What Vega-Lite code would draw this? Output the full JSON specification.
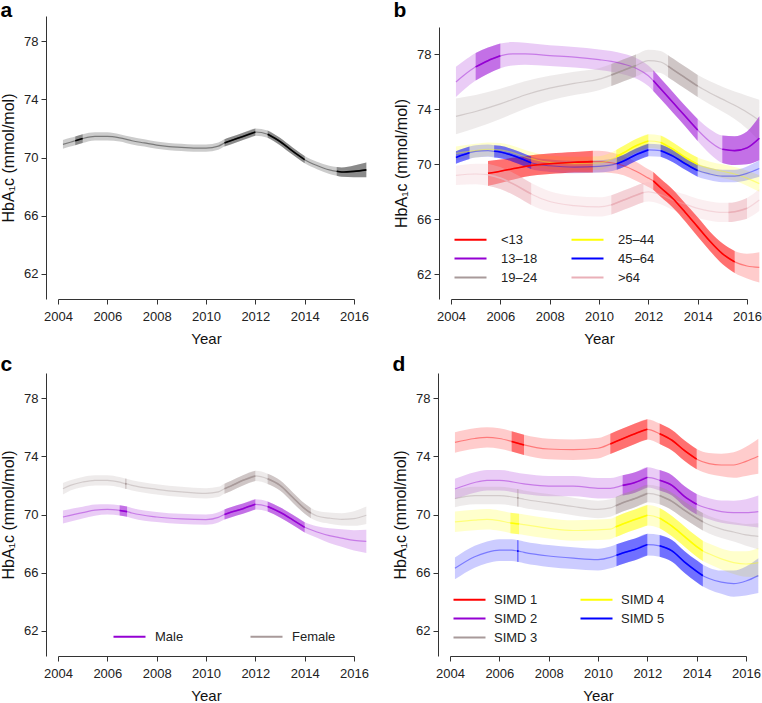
{
"$schema":"https://vega.github.io/schema/vega-lite/v6.json",
"padding":{"left":0,"top":0,"right":0,"bottom":0},
"spacing":8,
"resolve":{"scale":{"color":"independent"},"legend":{"color":"independent"}},
"config":{
 "font":"Liberation Sans",
 "view":{"stroke":null},
 "axis":{"grid":false,"domainColor":"#333","tickColor":"#333","labelColor":"#222","titleColor":"#111","labelFontSize":13,"titleFontSize":16,"titleFontWeight":"normal","tickSize":5,"labelPadding":3},
 "axisX":{"labelPadding":6,"titlePadding":8,"labelFlush":false,"titleFontSize":15},
 "axisY":{"titlePadding":7,"offset":12},
 "legend":{"labelFontSize":13,"labelColor":"#222","symbolType":"M-1.6,0L1.6,0","symbolSize":400,"symbolStrokeWidth":2.2,"symbolOpacity":1,"rowPadding":0},
 "title":{"fontSize":21,"fontWeight":"bold","anchor":"start","frame":"bounds","color":"#000"}
},
"datasets":{"d":[
{"p":"a","g":"All","t":2004.2,"m":70.9,"lo":70.6,"hi":71.2,"s":""},
{"p":"a","g":"All","t":2004.5,"m":71.05,"lo":70.75,"hi":71.35,"s":""},
{"p":"a","g":"All","t":2004.7,"m":71.15,"lo":70.85,"hi":71.45,"s":"a1"},
{"p":"a","g":"All","t":2005.0,"m":71.3,"lo":71.0,"hi":71.6,"s":"a1"},
{"p":"a","g":"All","t":2005.5,"m":71.45,"lo":71.17,"hi":71.73,"s":""},
{"p":"a","g":"All","t":2006.0,"m":71.45,"lo":71.17,"hi":71.73,"s":""},
{"p":"a","g":"All","t":2006.5,"m":71.35,"lo":71.1,"hi":71.6,"s":""},
{"p":"a","g":"All","t":2007.0,"m":71.15,"lo":70.9,"hi":71.4,"s":""},
{"p":"a","g":"All","t":2007.5,"m":71.0,"lo":70.75,"hi":71.25,"s":""},
{"p":"a","g":"All","t":2008.0,"m":70.85,"lo":70.6,"hi":71.1,"s":""},
{"p":"a","g":"All","t":2008.5,"m":70.75,"lo":70.5,"hi":71.0,"s":""},
{"p":"a","g":"All","t":2009.0,"m":70.7,"lo":70.45,"hi":70.95,"s":""},
{"p":"a","g":"All","t":2009.5,"m":70.65,"lo":70.4,"hi":70.9,"s":""},
{"p":"a","g":"All","t":2010.0,"m":70.65,"lo":70.4,"hi":70.9,"s":""},
{"p":"a","g":"All","t":2010.5,"m":70.78,"lo":70.53,"hi":71.03,"s":""},
{"p":"a","g":"All","t":2010.75,"m":71.0,"lo":70.75,"hi":71.25,"s":"a2"},
{"p":"a","g":"All","t":2011.0,"m":71.15,"lo":70.9,"hi":71.4,"s":"a2"},
{"p":"a","g":"All","t":2011.5,"m":71.45,"lo":71.2,"hi":71.7,"s":"a2"},
{"p":"a","g":"All","t":2012.0,"m":71.75,"lo":71.5,"hi":72.0,"s":"a2"},
{"p":"a","g":"All","t":2012.5,"m":71.6,"lo":71.35,"hi":71.85,"s":"a3"},
{"p":"a","g":"All","t":2013.0,"m":71.1,"lo":70.85,"hi":71.35,"s":"a3"},
{"p":"a","g":"All","t":2013.5,"m":70.45,"lo":70.2,"hi":70.7,"s":"a3"},
{"p":"a","g":"All","t":2014.0,"m":69.85,"lo":69.6,"hi":70.1,"s":"a3"},
{"p":"a","g":"All","t":2014.5,"m":69.45,"lo":69.2,"hi":69.7,"s":""},
{"p":"a","g":"All","t":2015.0,"m":69.15,"lo":68.87,"hi":69.43,"s":""},
{"p":"a","g":"All","t":2015.3,"m":69.05,"lo":68.75,"hi":69.35,"s":"a4"},
{"p":"a","g":"All","t":2015.5,"m":69.0,"lo":68.68,"hi":69.32,"s":"a4"},
{"p":"a","g":"All","t":2016.0,"m":69.05,"lo":68.65,"hi":69.45,"s":"a4"},
{"p":"a","g":"All","t":2016.5,"m":69.15,"lo":68.65,"hi":69.65,"s":"a4"},

{"p":"b","g":"<13","t":2005.5,"m":69.35,"lo":68.45,"hi":70.25,"s":"b1"},
{"p":"b","g":"<13","t":2006.0,"m":69.5,"lo":68.65,"hi":70.35,"s":"b1"},
{"p":"b","g":"<13","t":2006.5,"m":69.68,"lo":68.88,"hi":70.48,"s":"b1"},
{"p":"b","g":"<13","t":2007.0,"m":69.85,"lo":69.1,"hi":70.6,"s":"b1"},
{"p":"b","g":"<13","t":2007.5,"m":69.97,"lo":69.22,"hi":70.72,"s":"b1"},
{"p":"b","g":"<13","t":2008.0,"m":70.05,"lo":69.3,"hi":70.8,"s":"b1"},
{"p":"b","g":"<13","t":2008.5,"m":70.1,"lo":69.35,"hi":70.85,"s":"b1"},
{"p":"b","g":"<13","t":2009.0,"m":70.15,"lo":69.4,"hi":70.9,"s":"b1"},
{"p":"b","g":"<13","t":2009.75,"m":70.2,"lo":69.4,"hi":71.0,"s":"b1"},
{"p":"b","g":"<13","t":2010.0,"m":70.2,"lo":69.4,"hi":71.0,"s":""},
{"p":"b","g":"<13","t":2010.5,"m":70.12,"lo":69.37,"hi":70.87,"s":""},
{"p":"b","g":"<13","t":2011.0,"m":69.9,"lo":69.2,"hi":70.6,"s":""},
{"p":"b","g":"<13","t":2011.5,"m":69.5,"lo":68.8,"hi":70.2,"s":""},
{"p":"b","g":"<13","t":2012.0,"m":69.0,"lo":68.35,"hi":69.65,"s":""},
{"p":"b","g":"<13","t":2012.2,"m":68.8,"lo":68.15,"hi":69.45,"s":"b2"},
{"p":"b","g":"<13","t":2012.5,"m":68.3,"lo":67.65,"hi":68.95,"s":"b2"},
{"p":"b","g":"<13","t":2013.0,"m":67.5,"lo":66.85,"hi":68.15,"s":"b2"},
{"p":"b","g":"<13","t":2013.5,"m":66.5,"lo":65.85,"hi":67.15,"s":"b2"},
{"p":"b","g":"<13","t":2014.0,"m":65.45,"lo":64.75,"hi":66.15,"s":"b2"},
{"p":"b","g":"<13","t":2014.5,"m":64.4,"lo":63.7,"hi":65.1,"s":"b2"},
{"p":"b","g":"<13","t":2015.0,"m":63.5,"lo":62.75,"hi":64.25,"s":"b2"},
{"p":"b","g":"<13","t":2015.5,"m":62.9,"lo":62.1,"hi":63.7,"s":"b2"},
{"p":"b","g":"<13","t":2016.0,"m":62.6,"lo":61.7,"hi":63.5,"s":""},
{"p":"b","g":"<13","t":2016.5,"m":62.5,"lo":61.4,"hi":63.6,"s":""},

{"p":"b","g":"13–18","t":2004.2,"m":76.0,"lo":74.9,"hi":77.1,"s":""},
{"p":"b","g":"13–18","t":2004.5,"m":76.45,"lo":75.4,"hi":77.5,"s":""},
{"p":"b","g":"13–18","t":2005.0,"m":77.1,"lo":76.1,"hi":78.1,"s":"b3"},
{"p":"b","g":"13–18","t":2005.5,"m":77.55,"lo":76.6,"hi":78.5,"s":"b3"},
{"p":"b","g":"13–18","t":2006.0,"m":77.9,"lo":77.0,"hi":78.8,"s":"b3"},
{"p":"b","g":"13–18","t":2006.5,"m":78.05,"lo":77.2,"hi":78.9,"s":""},
{"p":"b","g":"13–18","t":2007.0,"m":78.05,"lo":77.25,"hi":78.85,"s":""},
{"p":"b","g":"13–18","t":2008.0,"m":77.92,"lo":77.17,"hi":78.67,"s":""},
{"p":"b","g":"13–18","t":2009.0,"m":77.8,"lo":77.05,"hi":78.55,"s":""},
{"p":"b","g":"13–18","t":2010.0,"m":77.62,"lo":76.87,"hi":78.37,"s":""},
{"p":"b","g":"13–18","t":2010.5,"m":77.5,"lo":76.75,"hi":78.25,"s":""},
{"p":"b","g":"13–18","t":2011.0,"m":77.3,"lo":76.55,"hi":78.05,"s":""},
{"p":"b","g":"13–18","t":2011.5,"m":77.0,"lo":76.25,"hi":77.75,"s":""},
{"p":"b","g":"13–18","t":2012.0,"m":76.45,"lo":75.7,"hi":77.2,"s":""},
{"p":"b","g":"13–18","t":2012.2,"m":76.1,"lo":75.35,"hi":76.85,"s":"b4"},
{"p":"b","g":"13–18","t":2012.5,"m":75.5,"lo":74.75,"hi":76.25,"s":"b4"},
{"p":"b","g":"13–18","t":2013.0,"m":74.5,"lo":73.75,"hi":75.25,"s":"b4"},
{"p":"b","g":"13–18","t":2013.5,"m":73.5,"lo":72.75,"hi":74.25,"s":"b4"},
{"p":"b","g":"13–18","t":2014.0,"m":72.5,"lo":71.7,"hi":73.3,"s":"b4"},
{"p":"b","g":"13–18","t":2014.5,"m":71.65,"lo":70.75,"hi":72.55,"s":""},
{"p":"b","g":"13–18","t":2015.0,"m":71.1,"lo":70.1,"hi":72.1,"s":"b5"},
{"p":"b","g":"13–18","t":2015.5,"m":71.0,"lo":69.95,"hi":72.05,"s":"b5"},
{"p":"b","g":"13–18","t":2016.0,"m":71.2,"lo":70.0,"hi":72.4,"s":"b5"},
{"p":"b","g":"13–18","t":2016.5,"m":71.9,"lo":70.3,"hi":73.5,"s":"b5"},

{"p":"b","g":"19–24","t":2004.2,"m":73.5,"lo":72.2,"hi":74.8,"s":""},
{"p":"b","g":"19–24","t":2005.0,"m":73.85,"lo":72.65,"hi":75.05,"s":""},
{"p":"b","g":"19–24","t":2006.0,"m":74.4,"lo":73.3,"hi":75.5,"s":""},
{"p":"b","g":"19–24","t":2007.0,"m":75.05,"lo":74.05,"hi":76.05,"s":""},
{"p":"b","g":"19–24","t":2008.0,"m":75.55,"lo":74.65,"hi":76.45,"s":""},
{"p":"b","g":"19–24","t":2009.0,"m":75.9,"lo":75.05,"hi":76.75,"s":""},
{"p":"b","g":"19–24","t":2010.0,"m":76.2,"lo":75.4,"hi":77.0,"s":""},
{"p":"b","g":"19–24","t":2010.5,"m":76.5,"lo":75.7,"hi":77.3,"s":"b6"},
{"p":"b","g":"19–24","t":2011.0,"m":76.85,"lo":76.05,"hi":77.65,"s":"b6"},
{"p":"b","g":"19–24","t":2011.5,"m":77.2,"lo":76.4,"hi":78.0,"s":"b6"},
{"p":"b","g":"19–24","t":2012.0,"m":77.55,"lo":76.75,"hi":78.35,"s":""},
{"p":"b","g":"19–24","t":2012.5,"m":77.45,"lo":76.65,"hi":78.25,"s":""},
{"p":"b","g":"19–24","t":2012.8,"m":77.15,"lo":76.35,"hi":77.95,"s":"b7"},
{"p":"b","g":"19–24","t":2013.0,"m":76.9,"lo":76.1,"hi":77.7,"s":"b7"},
{"p":"b","g":"19–24","t":2013.5,"m":76.3,"lo":75.5,"hi":77.1,"s":"b7"},
{"p":"b","g":"19–24","t":2014.0,"m":75.7,"lo":74.9,"hi":76.5,"s":"b7"},
{"p":"b","g":"19–24","t":2014.5,"m":75.2,"lo":74.35,"hi":76.05,"s":""},
{"p":"b","g":"19–24","t":2015.0,"m":74.75,"lo":73.85,"hi":75.65,"s":""},
{"p":"b","g":"19–24","t":2015.5,"m":74.3,"lo":73.3,"hi":75.3,"s":""},
{"p":"b","g":"19–24","t":2016.0,"m":73.8,"lo":72.6,"hi":75.0,"s":""},
{"p":"b","g":"19–24","t":2016.5,"m":73.2,"lo":71.7,"hi":74.7,"s":""},

{"p":"b","g":"25–44","t":2004.2,"m":70.8,"lo":70.3,"hi":71.3,"s":""},
{"p":"b","g":"25–44","t":2005.0,"m":71.0,"lo":70.5,"hi":71.5,"s":""},
{"p":"b","g":"25–44","t":2005.5,"m":71.1,"lo":70.6,"hi":71.6,"s":""},
{"p":"b","g":"25–44","t":2006.0,"m":71.05,"lo":70.55,"hi":71.55,"s":""},
{"p":"b","g":"25–44","t":2006.5,"m":70.85,"lo":70.35,"hi":71.35,"s":""},
{"p":"b","g":"25–44","t":2007.0,"m":70.55,"lo":70.05,"hi":71.05,"s":""},
{"p":"b","g":"25–44","t":2007.5,"m":70.3,"lo":69.8,"hi":70.8,"s":""},
{"p":"b","g":"25–44","t":2008.0,"m":70.15,"lo":69.65,"hi":70.65,"s":""},
{"p":"b","g":"25–44","t":2009.0,"m":70.05,"lo":69.55,"hi":70.55,"s":""},
{"p":"b","g":"25–44","t":2010.0,"m":70.1,"lo":69.6,"hi":70.6,"s":""},
{"p":"b","g":"25–44","t":2010.7,"m":70.55,"lo":70.05,"hi":71.05,"s":"b8"},
{"p":"b","g":"25–44","t":2011.0,"m":70.85,"lo":70.35,"hi":71.35,"s":"b8"},
{"p":"b","g":"25–44","t":2011.5,"m":71.35,"lo":70.85,"hi":71.85,"s":"b8"},
{"p":"b","g":"25–44","t":2012.0,"m":71.7,"lo":71.2,"hi":72.2,"s":"b8"},
{"p":"b","g":"25–44","t":2012.5,"m":71.6,"lo":71.1,"hi":72.1,"s":"b9"},
{"p":"b","g":"25–44","t":2013.0,"m":71.1,"lo":70.6,"hi":71.6,"s":"b9"},
{"p":"b","g":"25–44","t":2013.5,"m":70.5,"lo":70.0,"hi":71.0,"s":"b9"},
{"p":"b","g":"25–44","t":2014.0,"m":70.0,"lo":69.5,"hi":70.5,"s":"b9"},
{"p":"b","g":"25–44","t":2014.5,"m":69.7,"lo":69.2,"hi":70.2,"s":""},
{"p":"b","g":"25–44","t":2015.0,"m":69.5,"lo":69.0,"hi":70.0,"s":""},
{"p":"b","g":"25–44","t":2015.5,"m":69.3,"lo":68.8,"hi":69.8,"s":""},
{"p":"b","g":"25–44","t":2016.0,"m":69.0,"lo":68.45,"hi":69.55,"s":""},
{"p":"b","g":"25–44","t":2016.5,"m":68.6,"lo":68.0,"hi":69.2,"s":""},

{"p":"b","g":"45–64","t":2004.2,"m":70.5,"lo":70.05,"hi":70.95,"s":"b10"},
{"p":"b","g":"45–64","t":2004.5,"m":70.7,"lo":70.25,"hi":71.15,"s":"b10"},
{"p":"b","g":"45–64","t":2004.75,"m":70.85,"lo":70.4,"hi":71.3,"s":"b10"},
{"p":"b","g":"45–64","t":2005.0,"m":70.95,"lo":70.5,"hi":71.4,"s":""},
{"p":"b","g":"45–64","t":2005.5,"m":71.0,"lo":70.55,"hi":71.45,"s":""},
{"p":"b","g":"45–64","t":2005.75,"m":70.95,"lo":70.5,"hi":71.4,"s":"b11"},
{"p":"b","g":"45–64","t":2006.0,"m":70.9,"lo":70.45,"hi":71.35,"s":"b11"},
{"p":"b","g":"45–64","t":2006.5,"m":70.65,"lo":70.2,"hi":71.1,"s":"b11"},
{"p":"b","g":"45–64","t":2007.0,"m":70.3,"lo":69.85,"hi":70.75,"s":"b11"},
{"p":"b","g":"45–64","t":2007.25,"m":70.12,"lo":69.67,"hi":70.57,"s":"b11"},
{"p":"b","g":"45–64","t":2007.5,"m":70.0,"lo":69.55,"hi":70.45,"s":""},
{"p":"b","g":"45–64","t":2008.0,"m":69.9,"lo":69.45,"hi":70.35,"s":""},
{"p":"b","g":"45–64","t":2009.0,"m":69.8,"lo":69.35,"hi":70.25,"s":""},
{"p":"b","g":"45–64","t":2010.0,"m":69.85,"lo":69.4,"hi":70.3,"s":""},
{"p":"b","g":"45–64","t":2010.72,"m":70.05,"lo":69.6,"hi":70.5,"s":"b12"},
{"p":"b","g":"45–64","t":2011.0,"m":70.25,"lo":69.8,"hi":70.7,"s":"b12"},
{"p":"b","g":"45–64","t":2011.5,"m":70.7,"lo":70.25,"hi":71.15,"s":"b12"},
{"p":"b","g":"45–64","t":2012.0,"m":71.05,"lo":70.6,"hi":71.5,"s":"b12"},
{"p":"b","g":"45–64","t":2012.5,"m":71.0,"lo":70.55,"hi":71.45,"s":"b13"},
{"p":"b","g":"45–64","t":2013.0,"m":70.6,"lo":70.15,"hi":71.05,"s":"b13"},
{"p":"b","g":"45–64","t":2013.5,"m":70.05,"lo":69.6,"hi":70.5,"s":"b13"},
{"p":"b","g":"45–64","t":2014.0,"m":69.55,"lo":69.1,"hi":70.0,"s":"b13"},
{"p":"b","g":"45–64","t":2014.5,"m":69.3,"lo":68.85,"hi":69.75,"s":""},
{"p":"b","g":"45–64","t":2015.0,"m":69.15,"lo":68.7,"hi":69.6,"s":""},
{"p":"b","g":"45–64","t":2015.5,"m":69.15,"lo":68.7,"hi":69.6,"s":""},
{"p":"b","g":"45–64","t":2016.0,"m":69.35,"lo":68.85,"hi":69.85,"s":""},
{"p":"b","g":"45–64","t":2016.5,"m":69.7,"lo":69.1,"hi":70.3,"s":""},

{"p":"b","g":">64","t":2004.2,"m":69.2,"lo":68.5,"hi":69.9,"s":""},
{"p":"b","g":">64","t":2005.0,"m":69.3,"lo":68.55,"hi":70.05,"s":""},
{"p":"b","g":">64","t":2005.5,"m":69.25,"lo":68.45,"hi":70.05,"s":"b14"},
{"p":"b","g":">64","t":2006.0,"m":69.0,"lo":68.2,"hi":69.8,"s":"b14"},
{"p":"b","g":">64","t":2006.5,"m":68.6,"lo":67.8,"hi":69.4,"s":"b14"},
{"p":"b","g":">64","t":2007.0,"m":68.1,"lo":67.3,"hi":68.9,"s":"b14"},
{"p":"b","g":">64","t":2007.25,"m":67.85,"lo":67.05,"hi":68.65,"s":"b14"},
{"p":"b","g":">64","t":2008.0,"m":67.3,"lo":66.55,"hi":68.05,"s":""},
{"p":"b","g":">64","t":2009.0,"m":67.0,"lo":66.3,"hi":67.7,"s":""},
{"p":"b","g":">64","t":2010.0,"m":66.9,"lo":66.2,"hi":67.6,"s":""},
{"p":"b","g":">64","t":2010.5,"m":67.05,"lo":66.35,"hi":67.75,"s":"b15"},
{"p":"b","g":">64","t":2011.0,"m":67.4,"lo":66.7,"hi":68.1,"s":"b15"},
{"p":"b","g":">64","t":2011.5,"m":67.75,"lo":67.05,"hi":68.45,"s":"b15"},
{"p":"b","g":">64","t":2011.8,"m":67.95,"lo":67.25,"hi":68.65,"s":"b15"},
{"p":"b","g":">64","t":2012.0,"m":68.0,"lo":67.3,"hi":68.7,"s":""},
{"p":"b","g":">64","t":2012.5,"m":67.8,"lo":67.1,"hi":68.5,"s":""},
{"p":"b","g":">64","t":2013.0,"m":67.4,"lo":66.7,"hi":68.1,"s":""},
{"p":"b","g":">64","t":2013.5,"m":67.1,"lo":66.4,"hi":67.8,"s":""},
{"p":"b","g":">64","t":2014.0,"m":66.8,"lo":66.1,"hi":67.5,"s":""},
{"p":"b","g":">64","t":2014.5,"m":66.6,"lo":65.9,"hi":67.3,"s":""},
{"p":"b","g":">64","t":2015.0,"m":66.5,"lo":65.8,"hi":67.2,"s":""},
{"p":"b","g":">64","t":2015.25,"m":66.5,"lo":65.8,"hi":67.2,"s":"b16"},
{"p":"b","g":">64","t":2015.5,"m":66.55,"lo":65.85,"hi":67.25,"s":"b16"},
{"p":"b","g":">64","t":2016.0,"m":66.8,"lo":66.05,"hi":67.55,"s":"b16"},
{"p":"b","g":">64","t":2016.5,"m":67.4,"lo":66.6,"hi":68.2,"s":""},

{"p":"c","g":"Female","t":2004.2,"m":71.77,"lo":71.37,"hi":72.17,"s":""},
{"p":"c","g":"Female","t":2004.5,"m":72.0,"lo":71.65,"hi":72.35,"s":""},
{"p":"c","g":"Female","t":2005.0,"m":72.23,"lo":71.88,"hi":72.58,"s":""},
{"p":"c","g":"Female","t":2005.5,"m":72.35,"lo":72.0,"hi":72.7,"s":""},
{"p":"c","g":"Female","t":2006.0,"m":72.35,"lo":72.0,"hi":72.7,"s":""},
{"p":"c","g":"Female","t":2006.5,"m":72.22,"lo":71.87,"hi":72.57,"s":""},
{"p":"c","g":"Female","t":2006.72,"m":72.12,"lo":71.77,"hi":72.47,"s":"c1"},
{"p":"c","g":"Female","t":2006.78,"m":72.1,"lo":71.75,"hi":72.45,"s":"c1"},
{"p":"c","g":"Female","t":2007.0,"m":72.0,"lo":71.65,"hi":72.35,"s":""},
{"p":"c","g":"Female","t":2008.0,"m":71.73,"lo":71.38,"hi":72.08,"s":""},
{"p":"c","g":"Female","t":2009.0,"m":71.55,"lo":71.2,"hi":71.9,"s":""},
{"p":"c","g":"Female","t":2010.0,"m":71.45,"lo":71.1,"hi":71.8,"s":""},
{"p":"c","g":"Female","t":2010.5,"m":71.55,"lo":71.2,"hi":71.9,"s":""},
{"p":"c","g":"Female","t":2010.75,"m":71.77,"lo":71.42,"hi":72.12,"s":"c2"},
{"p":"c","g":"Female","t":2011.0,"m":71.95,"lo":71.6,"hi":72.3,"s":"c2"},
{"p":"c","g":"Female","t":2011.5,"m":72.35,"lo":72.0,"hi":72.7,"s":"c2"},
{"p":"c","g":"Female","t":2012.0,"m":72.65,"lo":72.3,"hi":73.0,"s":"c2"},
{"p":"c","g":"Female","t":2012.5,"m":72.45,"lo":72.1,"hi":72.8,"s":"c3"},
{"p":"c","g":"Female","t":2013.0,"m":72.0,"lo":71.65,"hi":72.35,"s":"c3"},
{"p":"c","g":"Female","t":2013.5,"m":71.2,"lo":70.85,"hi":71.55,"s":"c3"},
{"p":"c","g":"Female","t":2014.0,"m":70.4,"lo":70.05,"hi":70.75,"s":"c3"},
{"p":"c","g":"Female","t":2014.25,"m":70.1,"lo":69.75,"hi":70.45,"s":"c3"},
{"p":"c","g":"Female","t":2014.5,"m":69.9,"lo":69.55,"hi":70.25,"s":""},
{"p":"c","g":"Female","t":2015.0,"m":69.75,"lo":69.37,"hi":70.13,"s":""},
{"p":"c","g":"Female","t":2015.5,"m":69.67,"lo":69.25,"hi":70.09,"s":""},
{"p":"c","g":"Female","t":2016.0,"m":69.72,"lo":69.22,"hi":70.22,"s":""},
{"p":"c","g":"Female","t":2016.5,"m":69.95,"lo":69.35,"hi":70.55,"s":""},

{"p":"c","g":"Male","t":2004.2,"m":69.83,"lo":69.38,"hi":70.28,"s":""},
{"p":"c","g":"Male","t":2005.0,"m":70.13,"lo":69.73,"hi":70.53,"s":""},
{"p":"c","g":"Male","t":2005.5,"m":70.3,"lo":69.92,"hi":70.68,"s":""},
{"p":"c","g":"Male","t":2006.0,"m":70.35,"lo":70.0,"hi":70.7,"s":""},
{"p":"c","g":"Male","t":2006.5,"m":70.28,"lo":69.93,"hi":70.63,"s":"c4"},
{"p":"c","g":"Male","t":2006.8,"m":70.2,"lo":69.85,"hi":70.55,"s":"c4"},
{"p":"c","g":"Male","t":2007.0,"m":70.1,"lo":69.75,"hi":70.45,"s":""},
{"p":"c","g":"Male","t":2008.0,"m":69.83,"lo":69.48,"hi":70.18,"s":""},
{"p":"c","g":"Male","t":2009.0,"m":69.7,"lo":69.35,"hi":70.05,"s":""},
{"p":"c","g":"Male","t":2010.0,"m":69.65,"lo":69.3,"hi":70.0,"s":""},
{"p":"c","g":"Male","t":2010.5,"m":69.8,"lo":69.45,"hi":70.15,"s":""},
{"p":"c","g":"Male","t":2010.75,"m":70.0,"lo":69.65,"hi":70.35,"s":"c5"},
{"p":"c","g":"Male","t":2011.0,"m":70.15,"lo":69.8,"hi":70.5,"s":"c5"},
{"p":"c","g":"Male","t":2011.5,"m":70.4,"lo":70.05,"hi":70.75,"s":"c5"},
{"p":"c","g":"Male","t":2012.0,"m":70.7,"lo":70.35,"hi":71.05,"s":"c5"},
{"p":"c","g":"Male","t":2012.5,"m":70.55,"lo":70.2,"hi":70.9,"s":"c6"},
{"p":"c","g":"Male","t":2013.0,"m":70.15,"lo":69.8,"hi":70.5,"s":"c6"},
{"p":"c","g":"Male","t":2013.5,"m":69.65,"lo":69.3,"hi":70.0,"s":"c6"},
{"p":"c","g":"Male","t":2014.0,"m":69.12,"lo":68.77,"hi":69.47,"s":"c6"},
{"p":"c","g":"Male","t":2014.5,"m":68.8,"lo":68.4,"hi":69.2,"s":""},
{"p":"c","g":"Male","t":2015.0,"m":68.55,"lo":68.05,"hi":69.05,"s":""},
{"p":"c","g":"Male","t":2015.5,"m":68.38,"lo":67.78,"hi":68.98,"s":""},
{"p":"c","g":"Male","t":2016.0,"m":68.22,"lo":67.52,"hi":68.92,"s":""},
{"p":"c","g":"Male","t":2016.5,"m":68.15,"lo":67.35,"hi":68.95,"s":""},

{"p":"d","g":"SIMD 1","t":2004.2,"m":74.95,"lo":74.25,"hi":75.65,"s":""},
{"p":"d","g":"SIMD 1","t":2005.0,"m":75.22,"lo":74.52,"hi":75.92,"s":""},
{"p":"d","g":"SIMD 1","t":2005.5,"m":75.3,"lo":74.6,"hi":76.0,"s":""},
{"p":"d","g":"SIMD 1","t":2006.0,"m":75.22,"lo":74.52,"hi":75.92,"s":""},
{"p":"d","g":"SIMD 1","t":2006.5,"m":75.02,"lo":74.32,"hi":75.72,"s":"d1"},
{"p":"d","g":"SIMD 1","t":2007.0,"m":74.78,"lo":74.08,"hi":75.48,"s":"d1"},
{"p":"d","g":"SIMD 1","t":2007.5,"m":74.6,"lo":73.9,"hi":75.3,"s":""},
{"p":"d","g":"SIMD 1","t":2008.0,"m":74.5,"lo":73.8,"hi":75.2,"s":""},
{"p":"d","g":"SIMD 1","t":2009.0,"m":74.45,"lo":73.75,"hi":75.15,"s":""},
{"p":"d","g":"SIMD 1","t":2010.0,"m":74.55,"lo":73.85,"hi":75.25,"s":""},
{"p":"d","g":"SIMD 1","t":2010.5,"m":74.85,"lo":74.15,"hi":75.55,"s":"d2"},
{"p":"d","g":"SIMD 1","t":2011.0,"m":75.2,"lo":74.5,"hi":75.9,"s":"d2"},
{"p":"d","g":"SIMD 1","t":2011.5,"m":75.55,"lo":74.85,"hi":76.25,"s":"d2"},
{"p":"d","g":"SIMD 1","t":2012.0,"m":75.85,"lo":75.15,"hi":76.55,"s":"d2"},
{"p":"d","g":"SIMD 1","t":2012.5,"m":75.55,"lo":74.85,"hi":76.25,"s":"d3"},
{"p":"d","g":"SIMD 1","t":2013.0,"m":75.1,"lo":74.4,"hi":75.8,"s":"d3"},
{"p":"d","g":"SIMD 1","t":2013.5,"m":74.4,"lo":73.7,"hi":75.1,"s":"d3"},
{"p":"d","g":"SIMD 1","t":2014.0,"m":73.8,"lo":73.1,"hi":74.5,"s":"d3"},
{"p":"d","g":"SIMD 1","t":2014.5,"m":73.5,"lo":72.78,"hi":74.22,"s":""},
{"p":"d","g":"SIMD 1","t":2015.0,"m":73.4,"lo":72.62,"hi":74.18,"s":""},
{"p":"d","g":"SIMD 1","t":2015.5,"m":73.4,"lo":72.52,"hi":74.28,"s":""},
{"p":"d","g":"SIMD 1","t":2016.0,"m":73.65,"lo":72.65,"hi":74.65,"s":""},
{"p":"d","g":"SIMD 1","t":2016.5,"m":74.0,"lo":72.8,"hi":75.2,"s":""},

{"p":"d","g":"SIMD 2","t":2004.2,"m":71.75,"lo":71.05,"hi":72.45,"s":""},
{"p":"d","g":"SIMD 2","t":2005.0,"m":72.2,"lo":71.5,"hi":72.9,"s":""},
{"p":"d","g":"SIMD 2","t":2005.5,"m":72.35,"lo":71.65,"hi":73.05,"s":""},
{"p":"d","g":"SIMD 2","t":2006.0,"m":72.35,"lo":71.65,"hi":73.05,"s":""},
{"p":"d","g":"SIMD 2","t":2007.0,"m":72.1,"lo":71.4,"hi":72.8,"s":""},
{"p":"d","g":"SIMD 2","t":2008.0,"m":71.95,"lo":71.25,"hi":72.65,"s":""},
{"p":"d","g":"SIMD 2","t":2009.0,"m":71.95,"lo":71.25,"hi":72.65,"s":""},
{"p":"d","g":"SIMD 2","t":2010.0,"m":71.8,"lo":71.1,"hi":72.5,"s":""},
{"p":"d","g":"SIMD 2","t":2010.5,"m":71.8,"lo":71.1,"hi":72.5,"s":""},
{"p":"d","g":"SIMD 2","t":2011.0,"m":72.0,"lo":71.3,"hi":72.7,"s":"d4"},
{"p":"d","g":"SIMD 2","t":2011.5,"m":72.2,"lo":71.5,"hi":72.9,"s":"d4"},
{"p":"d","g":"SIMD 2","t":2012.0,"m":72.55,"lo":71.85,"hi":73.25,"s":"d4"},
{"p":"d","g":"SIMD 2","t":2012.5,"m":72.35,"lo":71.65,"hi":73.05,"s":"d5"},
{"p":"d","g":"SIMD 2","t":2013.0,"m":72.0,"lo":71.3,"hi":72.7,"s":"d5"},
{"p":"d","g":"SIMD 2","t":2013.5,"m":71.25,"lo":70.55,"hi":71.95,"s":"d5"},
{"p":"d","g":"SIMD 2","t":2014.0,"m":70.7,"lo":70.0,"hi":71.4,"s":"d5"},
{"p":"d","g":"SIMD 2","t":2014.5,"m":70.4,"lo":69.68,"hi":71.12,"s":""},
{"p":"d","g":"SIMD 2","t":2015.0,"m":70.2,"lo":69.44,"hi":70.96,"s":""},
{"p":"d","g":"SIMD 2","t":2015.5,"m":70.13,"lo":69.31,"hi":70.95,"s":""},
{"p":"d","g":"SIMD 2","t":2016.0,"m":70.13,"lo":69.21,"hi":71.05,"s":""},
{"p":"d","g":"SIMD 2","t":2016.5,"m":70.2,"lo":69.1,"hi":71.3,"s":""},

{"p":"d","g":"SIMD 3","t":2004.2,"m":71.1,"lo":70.5,"hi":71.7,"s":""},
{"p":"d","g":"SIMD 3","t":2005.0,"m":71.3,"lo":70.7,"hi":71.9,"s":""},
{"p":"d","g":"SIMD 3","t":2006.0,"m":71.3,"lo":70.7,"hi":71.9,"s":""},
{"p":"d","g":"SIMD 3","t":2006.72,"m":71.15,"lo":70.55,"hi":71.75,"s":"d6"},
{"p":"d","g":"SIMD 3","t":2006.78,"m":71.13,"lo":70.53,"hi":71.73,"s":"d6"},
{"p":"d","g":"SIMD 3","t":2007.0,"m":71.05,"lo":70.45,"hi":71.65,"s":""},
{"p":"d","g":"SIMD 3","t":2008.0,"m":70.8,"lo":70.2,"hi":71.4,"s":""},
{"p":"d","g":"SIMD 3","t":2009.0,"m":70.55,"lo":69.95,"hi":71.15,"s":""},
{"p":"d","g":"SIMD 3","t":2010.0,"m":70.35,"lo":69.75,"hi":70.95,"s":""},
{"p":"d","g":"SIMD 3","t":2010.5,"m":70.45,"lo":69.85,"hi":71.05,"s":""},
{"p":"d","g":"SIMD 3","t":2010.72,"m":70.6,"lo":70.0,"hi":71.2,"s":"d7"},
{"p":"d","g":"SIMD 3","t":2011.0,"m":70.8,"lo":70.2,"hi":71.4,"s":"d7"},
{"p":"d","g":"SIMD 3","t":2011.5,"m":71.1,"lo":70.5,"hi":71.7,"s":"d7"},
{"p":"d","g":"SIMD 3","t":2012.0,"m":71.45,"lo":70.85,"hi":72.05,"s":"d7"},
{"p":"d","g":"SIMD 3","t":2012.5,"m":71.3,"lo":70.7,"hi":71.9,"s":"d8"},
{"p":"d","g":"SIMD 3","t":2013.0,"m":70.9,"lo":70.3,"hi":71.5,"s":"d8"},
{"p":"d","g":"SIMD 3","t":2013.5,"m":70.3,"lo":69.7,"hi":70.9,"s":"d8"},
{"p":"d","g":"SIMD 3","t":2014.0,"m":69.75,"lo":69.15,"hi":70.35,"s":"d8"},
{"p":"d","g":"SIMD 3","t":2014.25,"m":69.5,"lo":68.9,"hi":70.1,"s":"d8"},
{"p":"d","g":"SIMD 3","t":2014.5,"m":69.3,"lo":68.7,"hi":69.9,"s":""},
{"p":"d","g":"SIMD 3","t":2015.0,"m":69.0,"lo":68.38,"hi":69.62,"s":""},
{"p":"d","g":"SIMD 3","t":2015.5,"m":68.8,"lo":68.14,"hi":69.46,"s":""},
{"p":"d","g":"SIMD 3","t":2016.0,"m":68.6,"lo":67.85,"hi":69.35,"s":""},
{"p":"d","g":"SIMD 3","t":2016.5,"m":68.5,"lo":67.6,"hi":69.4,"s":""},

{"p":"d","g":"SIMD 4","t":2004.2,"m":69.5,"lo":68.8,"hi":70.2,"s":""},
{"p":"d","g":"SIMD 4","t":2005.0,"m":69.62,"lo":68.92,"hi":70.32,"s":""},
{"p":"d","g":"SIMD 4","t":2005.5,"m":69.67,"lo":68.97,"hi":70.37,"s":""},
{"p":"d","g":"SIMD 4","t":2006.0,"m":69.58,"lo":68.88,"hi":70.28,"s":""},
{"p":"d","g":"SIMD 4","t":2006.45,"m":69.42,"lo":68.72,"hi":70.12,"s":"d9"},
{"p":"d","g":"SIMD 4","t":2006.8,"m":69.35,"lo":68.65,"hi":70.05,"s":"d9"},
{"p":"d","g":"SIMD 4","t":2007.0,"m":69.3,"lo":68.6,"hi":70.0,"s":""},
{"p":"d","g":"SIMD 4","t":2008.0,"m":69.05,"lo":68.35,"hi":69.75,"s":""},
{"p":"d","g":"SIMD 4","t":2009.0,"m":68.9,"lo":68.2,"hi":69.6,"s":""},
{"p":"d","g":"SIMD 4","t":2010.0,"m":68.95,"lo":68.25,"hi":69.65,"s":""},
{"p":"d","g":"SIMD 4","t":2010.5,"m":69.0,"lo":68.3,"hi":69.7,"s":""},
{"p":"d","g":"SIMD 4","t":2010.72,"m":69.15,"lo":68.45,"hi":69.85,"s":"d10"},
{"p":"d","g":"SIMD 4","t":2011.0,"m":69.35,"lo":68.65,"hi":70.05,"s":"d10"},
{"p":"d","g":"SIMD 4","t":2011.5,"m":69.65,"lo":68.95,"hi":70.35,"s":"d10"},
{"p":"d","g":"SIMD 4","t":2012.0,"m":69.95,"lo":69.25,"hi":70.65,"s":"d10"},
{"p":"d","g":"SIMD 4","t":2012.5,"m":69.75,"lo":69.05,"hi":70.45,"s":"d11"},
{"p":"d","g":"SIMD 4","t":2013.0,"m":69.2,"lo":68.5,"hi":69.9,"s":"d11"},
{"p":"d","g":"SIMD 4","t":2013.5,"m":68.5,"lo":67.8,"hi":69.2,"s":"d11"},
{"p":"d","g":"SIMD 4","t":2014.0,"m":67.8,"lo":67.1,"hi":68.5,"s":"d11"},
{"p":"d","g":"SIMD 4","t":2014.25,"m":67.5,"lo":66.8,"hi":68.2,"s":"d11"},
{"p":"d","g":"SIMD 4","t":2014.5,"m":67.3,"lo":66.6,"hi":68.0,"s":""},
{"p":"d","g":"SIMD 4","t":2015.0,"m":66.95,"lo":66.23,"hi":67.67,"s":""},
{"p":"d","g":"SIMD 4","t":2015.5,"m":66.7,"lo":65.92,"hi":67.48,"s":""},
{"p":"d","g":"SIMD 4","t":2016.0,"m":66.6,"lo":65.72,"hi":67.48,"s":""},
{"p":"d","g":"SIMD 4","t":2016.5,"m":66.7,"lo":65.7,"hi":67.7,"s":""},

{"p":"d","g":"SIMD 5","t":2004.2,"m":66.3,"lo":65.55,"hi":67.05,"s":""},
{"p":"d","g":"SIMD 5","t":2005.0,"m":67.1,"lo":66.35,"hi":67.85,"s":""},
{"p":"d","g":"SIMD 5","t":2005.5,"m":67.4,"lo":66.65,"hi":68.15,"s":""},
{"p":"d","g":"SIMD 5","t":2006.0,"m":67.55,"lo":66.8,"hi":68.3,"s":""},
{"p":"d","g":"SIMD 5","t":2006.5,"m":67.55,"lo":66.8,"hi":68.3,"s":""},
{"p":"d","g":"SIMD 5","t":2006.72,"m":67.5,"lo":66.75,"hi":68.25,"s":"d12"},
{"p":"d","g":"SIMD 5","t":2006.78,"m":67.48,"lo":66.73,"hi":68.23,"s":"d12"},
{"p":"d","g":"SIMD 5","t":2007.0,"m":67.4,"lo":66.65,"hi":68.15,"s":""},
{"p":"d","g":"SIMD 5","t":2008.0,"m":67.15,"lo":66.4,"hi":67.9,"s":""},
{"p":"d","g":"SIMD 5","t":2009.0,"m":67.0,"lo":66.25,"hi":67.75,"s":""},
{"p":"d","g":"SIMD 5","t":2010.0,"m":66.9,"lo":66.15,"hi":67.65,"s":""},
{"p":"d","g":"SIMD 5","t":2010.5,"m":67.05,"lo":66.3,"hi":67.8,"s":""},
{"p":"d","g":"SIMD 5","t":2010.75,"m":67.2,"lo":66.45,"hi":67.95,"s":"d13"},
{"p":"d","g":"SIMD 5","t":2011.0,"m":67.35,"lo":66.6,"hi":68.1,"s":"d13"},
{"p":"d","g":"SIMD 5","t":2011.5,"m":67.6,"lo":66.85,"hi":68.35,"s":"d13"},
{"p":"d","g":"SIMD 5","t":2012.0,"m":67.93,"lo":67.18,"hi":68.68,"s":"d13"},
{"p":"d","g":"SIMD 5","t":2012.5,"m":67.85,"lo":67.1,"hi":68.6,"s":"d14"},
{"p":"d","g":"SIMD 5","t":2013.0,"m":67.5,"lo":66.75,"hi":68.25,"s":"d14"},
{"p":"d","g":"SIMD 5","t":2013.5,"m":66.75,"lo":66.0,"hi":67.5,"s":"d14"},
{"p":"d","g":"SIMD 5","t":2014.0,"m":66.1,"lo":65.35,"hi":66.85,"s":"d14"},
{"p":"d","g":"SIMD 5","t":2014.25,"m":65.8,"lo":65.05,"hi":66.55,"s":"d14"},
{"p":"d","g":"SIMD 5","t":2014.5,"m":65.6,"lo":64.85,"hi":66.35,"s":""},
{"p":"d","g":"SIMD 5","t":2015.0,"m":65.35,"lo":64.55,"hi":66.15,"s":""},
{"p":"d","g":"SIMD 5","t":2015.5,"m":65.25,"lo":64.35,"hi":66.15,"s":""},
{"p":"d","g":"SIMD 5","t":2016.0,"m":65.43,"lo":64.43,"hi":66.43,"s":""},
{"p":"d","g":"SIMD 5","t":2016.5,"m":65.8,"lo":64.6,"hi":67.0,"s":""}
]},
"vconcat":[
{"hconcat":[
 {"title":{"text":"a","offset":-5},
  "width":296,"height":283,
  "data":{"name":"d"},
  "transform":[{"filter":"datum.p === 'a'"}],
  "encoding":{"x":{"field":"t","type":"quantitative","scale":{"domain":[2004,2016],"nice":false,"zero":false},"axis":{"values":[2004,2006,2008,2010,2012,2014,2016],"format":"d","title":"Year"}}},
  "layer":[
   {"mark":{"type":"area","opacity":0.2,"interpolate":"monotone"},
    "encoding":{"y":{"field":"lo","type":"quantitative","scale":{"domain":[60.28,79.72],"nice":false,"zero":false},"axis":{"values":[62,64,66,68,70,72,74,76,78],"title":"HbA₁c (mmol/mol)"}},"y2":{"field":"hi"},
     "color":{"field":"g","type":"nominal","scale":{"domain":["All"],"range":["#000000"]},"legend":null}}},
   {"transform":[{"filter":"datum.s !== ''"}],
    "mark":{"type":"area","opacity":0.32,"interpolate":"monotone"},
    "encoding":{"y":{"field":"lo","type":"quantitative","scale":{"domain":[60.28,79.72],"nice":false,"zero":false}},"y2":{"field":"hi"},
     "color":{"field":"g","type":"nominal","scale":{"domain":["All"],"range":["#000000"]},"legend":null},"detail":{"field":"s"}}},
   {"mark":{"type":"line","opacity":0.4,"strokeWidth":1.2,"interpolate":"monotone"},
    "encoding":{"y":{"field":"m","type":"quantitative","scale":{"domain":[60.28,79.72],"nice":false,"zero":false}},
     "color":{"field":"g","type":"nominal","scale":{"domain":["All"],"range":["#000000"]},"legend":null}}},
   {"transform":[{"filter":"datum.s !== ''"}],
    "mark":{"type":"line","strokeWidth":1.6,"interpolate":"monotone"},
    "encoding":{"y":{"field":"m","type":"quantitative","scale":{"domain":[60.28,79.72],"nice":false,"zero":false}},
     "color":{"field":"g","type":"nominal","scale":{"domain":["All"],"range":["#000000"]},"legend":null},"detail":{"field":"s"}}}
  ]},
 {"title":{"text":"b","offset":-5},
  "width":296,"height":283,
  "data":{"name":"d"},
  "transform":[{"filter":"datum.p === 'b'"}],
  "encoding":{"x":{"field":"t","type":"quantitative","scale":{"domain":[2004,2016],"nice":false,"zero":false},"axis":{"values":[2004,2006,2008,2010,2012,2014,2016],"format":"d","title":"Year"}}},
  "layer":[
   {"mark":{"type":"area","opacity":0.2,"interpolate":"monotone"},
    "encoding":{"y":{"field":"lo","type":"quantitative","scale":{"domain":[60.2,80],"range":[283,11],"nice":false,"zero":false},"axis":{"values":[62,64,66,68,70,72,74,76,78,80],"title":"HbA₁c (mmol/mol)"}},"y2":{"field":"hi"},
     "color":{"field":"g","type":"nominal","scale":{"domain":["<13","13–18","19–24","25–44","45–64",">64"],"range":["#ff0000","#9400d3","#a89a9a","#ffff00","#0000ff","#eab0b8"]}}}},
   {"transform":[{"filter":"datum.s !== ''"}],
    "mark":{"type":"area","opacity":0.45,"interpolate":"monotone"},
    "encoding":{"y":{"field":"lo","type":"quantitative","scale":{"domain":[60.2,80],"range":[283,11],"nice":false,"zero":false}},"y2":{"field":"hi"},
     "color":{"field":"g","type":"nominal","scale":{"domain":["<13","13–18","19–24","25–44","45–64",">64"],"range":["#ff0000","#9400d3","#a89a9a","#ffff00","#0000ff","#eab0b8"]}},"detail":{"field":"s"}}},
   {"mark":{"type":"line","opacity":0.4,"strokeWidth":1.2,"interpolate":"monotone"},
    "encoding":{"y":{"field":"m","type":"quantitative","scale":{"domain":[60.2,80],"range":[283,11],"nice":false,"zero":false}},
     "color":{"field":"g","type":"nominal","scale":{"domain":["<13","13–18","19–24","25–44","45–64",">64"],"range":["#ff0000","#9400d3","#a89a9a","#ffff00","#0000ff","#eab0b8"]}}}},
   {"transform":[{"filter":"datum.s !== ''"}],
    "mark":{"type":"line","strokeWidth":1.6,"interpolate":"monotone"},
    "encoding":{"y":{"field":"m","type":"quantitative","scale":{"domain":[60.2,80],"range":[283,11],"nice":false,"zero":false}},
     "color":{"field":"g","type":"nominal","scale":{"domain":["<13","13–18","19–24","25–44","45–64",">64"],"range":["#ff0000","#9400d3","#a89a9a","#ffff00","#0000ff","#eab0b8"]},
      "legend":{"title":null,"orient":"none","legendX":8,"legendY":212,"columns":2,"gridAlign":"all","columnPadding":29,"rowPadding":0,"labelOffset":19}},"detail":{"field":"s"}}}
  ]}
 ],"spacing":23,"resolve":{"scale":{"color":"independent"},"legend":{"color":"independent"}}},
{"hconcat":[
 {"title":{"text":"c","offset":-2},
  "width":296,"height":283,
  "data":{"name":"d"},
  "transform":[{"filter":"datum.p === 'c'"}],
  "encoding":{"x":{"field":"t","type":"quantitative","scale":{"domain":[2004,2016],"nice":false,"zero":false},"axis":{"values":[2004,2006,2008,2010,2012,2014,2016],"format":"d","title":"Year"}}},
  "layer":[
   {"mark":{"type":"area","opacity":0.2,"interpolate":"monotone"},
    "encoding":{"y":{"field":"lo","type":"quantitative","scale":{"domain":[60.28,79.72],"nice":false,"zero":false},"axis":{"values":[62,64,66,68,70,72,74,76,78],"title":"HbA₁c (mmol/mol)"}},"y2":{"field":"hi"},
     "color":{"field":"g","type":"nominal","scale":{"domain":["Male","Female"],"range":["#9400d3","#a89a9a"]}}}},
   {"transform":[{"filter":"datum.s !== ''"}],
    "mark":{"type":"area","opacity":0.45,"interpolate":"monotone"},
    "encoding":{"y":{"field":"lo","type":"quantitative","scale":{"domain":[60.28,79.72],"nice":false,"zero":false}},"y2":{"field":"hi"},
     "color":{"field":"g","type":"nominal","scale":{"domain":["Male","Female"],"range":["#9400d3","#a89a9a"]}},"detail":{"field":"s"}}},
   {"mark":{"type":"line","opacity":0.4,"strokeWidth":1.2,"interpolate":"monotone"},
    "encoding":{"y":{"field":"m","type":"quantitative","scale":{"domain":[60.28,79.72],"nice":false,"zero":false}},
     "color":{"field":"g","type":"nominal","scale":{"domain":["Male","Female"],"range":["#9400d3","#a89a9a"]}}}},
   {"transform":[{"filter":"datum.s !== ''"}],
    "mark":{"type":"line","strokeWidth":1.6,"interpolate":"monotone"},
    "encoding":{"y":{"field":"m","type":"quantitative","scale":{"domain":[60.28,79.72],"nice":false,"zero":false}},
     "color":{"field":"g","type":"nominal","scale":{"domain":["Male","Female"],"range":["#9400d3","#a89a9a"]},
      "legend":{"title":null,"orient":"none","legendX":60,"legendY":252,"columns":2,"gridAlign":"all","columnPadding":47,"rowPadding":0,"labelOffset":14}},"detail":{"field":"s"}}}
  ]},
 {"title":{"text":"d","offset":-2},
  "width":296,"height":283,
  "data":{"name":"d"},
  "transform":[{"filter":"datum.p === 'd'"}],
  "encoding":{"x":{"field":"t","type":"quantitative","scale":{"domain":[2004,2016],"nice":false,"zero":false},"axis":{"values":[2004,2006,2008,2010,2012,2014,2016],"format":"d","title":"Year"}}},
  "layer":[
   {"mark":{"type":"area","opacity":0.2,"interpolate":"monotone"},
    "encoding":{"y":{"field":"lo","type":"quantitative","scale":{"domain":[60.28,79.72],"nice":false,"zero":false},"axis":{"values":[62,64,66,68,70,72,74,76,78],"title":"HbA₁c (mmol/mol)"}},"y2":{"field":"hi"},
     "color":{"field":"g","type":"nominal","scale":{"domain":["SIMD 1","SIMD 2","SIMD 3","SIMD 4","SIMD 5"],"range":["#ff0000","#9400d3","#a89a9a","#ffff00","#0000ff"]}}}},
   {"transform":[{"filter":"datum.s !== ''"}],
    "mark":{"type":"area","opacity":0.45,"interpolate":"monotone"},
    "encoding":{"y":{"field":"lo","type":"quantitative","scale":{"domain":[60.28,79.72],"nice":false,"zero":false}},"y2":{"field":"hi"},
     "color":{"field":"g","type":"nominal","scale":{"domain":["SIMD 1","SIMD 2","SIMD 3","SIMD 4","SIMD 5"],"range":["#ff0000","#9400d3","#a89a9a","#ffff00","#0000ff"]}},"detail":{"field":"s"}}},
   {"mark":{"type":"line","opacity":0.4,"strokeWidth":1.2,"interpolate":"monotone"},
    "encoding":{"y":{"field":"m","type":"quantitative","scale":{"domain":[60.28,79.72],"nice":false,"zero":false}},
     "color":{"field":"g","type":"nominal","scale":{"domain":["SIMD 1","SIMD 2","SIMD 3","SIMD 4","SIMD 5"],"range":["#ff0000","#9400d3","#a89a9a","#ffff00","#0000ff"]}}}},
   {"transform":[{"filter":"datum.s !== ''"}],
    "mark":{"type":"line","strokeWidth":1.6,"interpolate":"monotone"},
    "encoding":{"y":{"field":"m","type":"quantitative","scale":{"domain":[60.28,79.72],"nice":false,"zero":false}},
     "color":{"field":"g","type":"nominal","scale":{"domain":["SIMD 1","SIMD 2","SIMD 3","SIMD 4","SIMD 5"],"range":["#ff0000","#9400d3","#a89a9a","#ffff00","#0000ff"]},
      "legend":{"title":null,"orient":"none","legendX":8,"legendY":215,"columns":2,"gridAlign":"all","columnPadding":38,"rowPadding":0,"labelOffset":13}},"detail":{"field":"s"}}}
  ]}
 ],"spacing":23,"resolve":{"scale":{"color":"independent"},"legend":{"color":"independent"}}}
]
}
